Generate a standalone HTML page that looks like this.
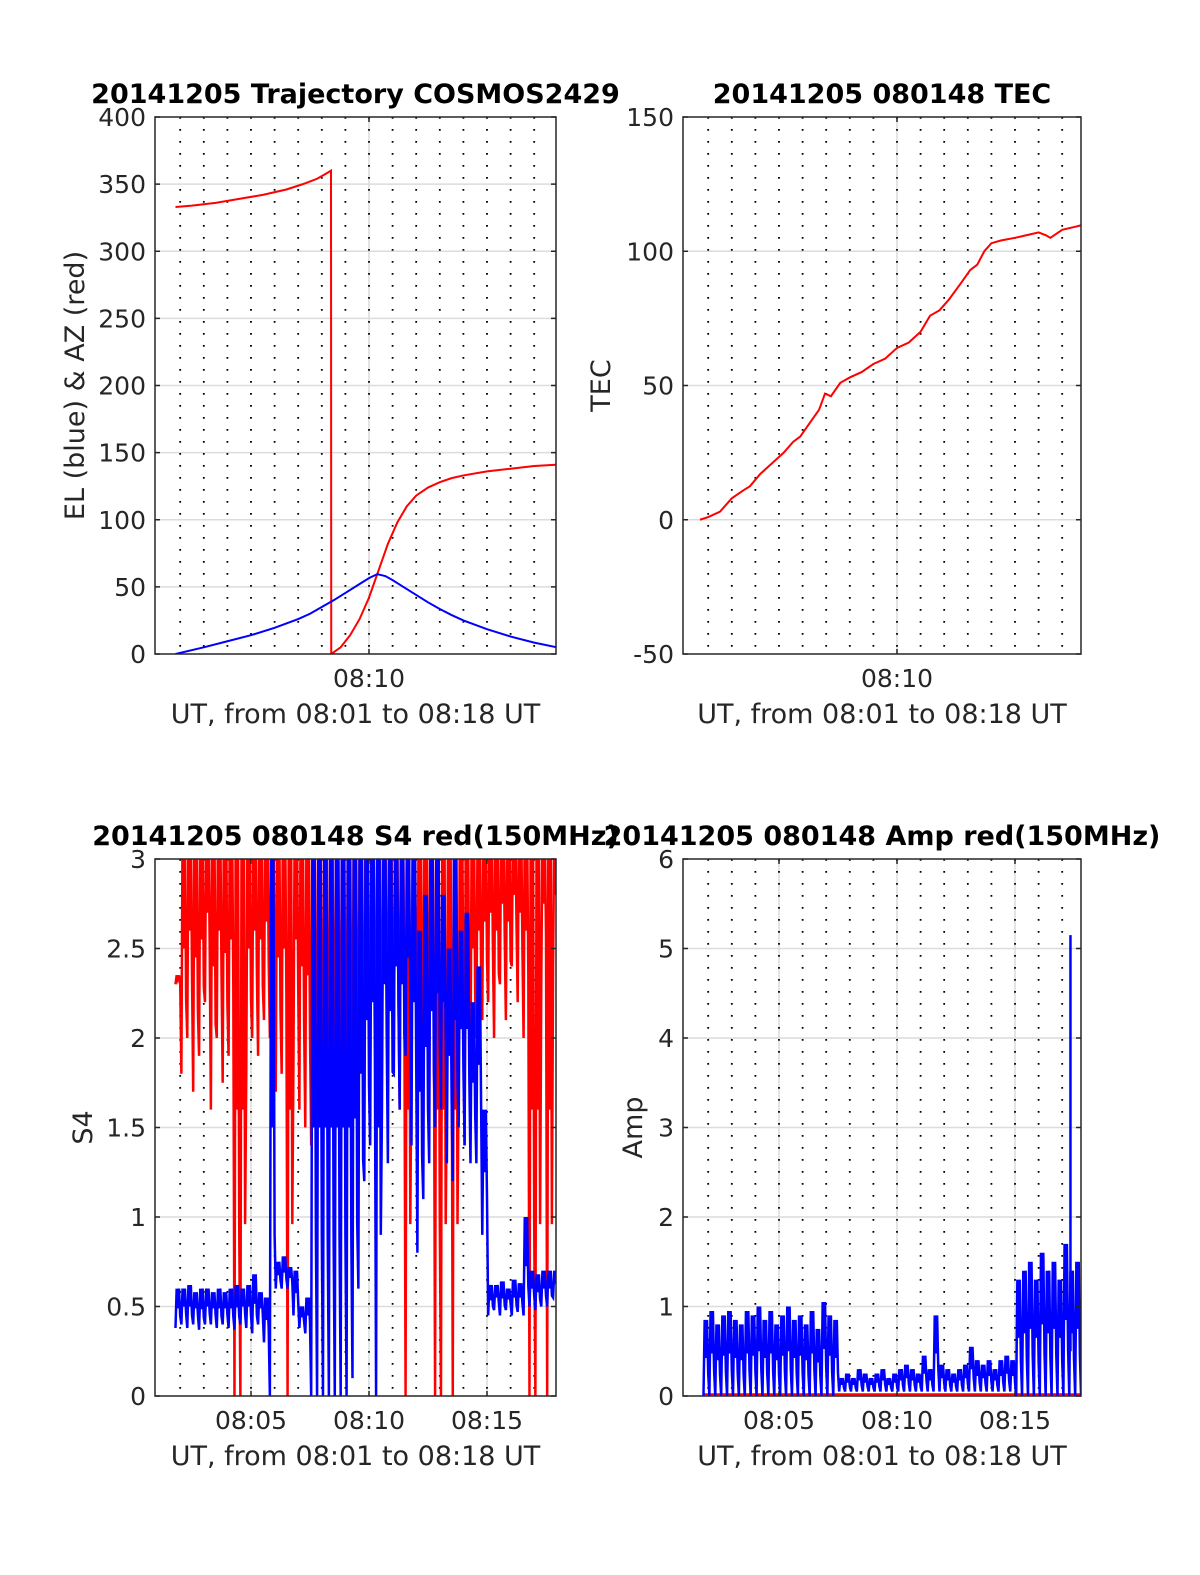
<!DOCTYPE html>
<html><head><meta charset="utf-8"><style>
html,body{margin:0;padding:0;background:#fff}
svg{display:block;font-family:"DejaVu Sans","Liberation Sans",sans-serif}
</style></head><body>
<svg id="fig" width="1200" height="1575" viewBox="0 0 1200 1575"></svg>
<script>
// ---- data ----
const azTimes = [1.8,2.5,3.5,4.5,5.5,6.5,7.2,7.8,8.2,8.39,8.4,8.8,9.2,9.6,10.0,10.4,10.8,11.2,11.6,12.0,12.5,13.0,13.5,14.0,15.0,16.0,17.0,17.95];
const azValues = [333,334,336,339,342,346,350,354,358,360,0,5,14,26,42,62,82,98,110,118,124,128,131,133,136,138,140,141];
const elTimes = [1.8,3,4,5,6,7,7.5,8,8.5,9,9.5,10,10.35,10.7,11,11.5,12,12.5,13,13.5,14,15,16,17,17.95];
const elValues = [0,5,9.5,14,19.5,26,30,35,40,45.5,51,56.5,59.5,58,55,49.5,44,38.5,33.5,29,25,18.5,13,8.5,5];
const tecTimes = [1.65,2.0,2.5,3.0,3.5,3.77,4.2,4.7,5.2,5.6,5.9,6.3,6.7,6.95,7.2,7.6,8.0,8.5,9.0,9.5,10.0,10.5,11.0,11.4,11.8,12.2,12.7,13.1,13.4,13.7,14.0,14.4,15.0,15.5,16.0,16.3,16.5,17.0,17.5,17.95];
const tecValues = [0,1,3,8,11,12.5,17,21,25,29,31,36,41,47,46,51,53,55,58,60,64,66,70,76,78,82,88,93,95,100,103,104,105,106,107,106,105,108,109,110];
const s4Start = 1.8, binStep = 0.25;
const s4BlueLo = [.38,.4,.38,.4,.37,.4,.4,.38,.4,.38,.37,.4,.38,.35,.4,.3,0,.6,.6,.6,.45,.38,.35,0,0,0,0,0,0,0,.1,.6,1.2,1.4,0,1.6,1.3,1.8,1.6,1.9,1.4,.8,1.1,1.3,1.5,1.6,1.3,1.2,1.5,1.4,1.3,1.3,.9,.45,.48,.45,.48,.45,.47,.45,.5,.48,.5,.5,.55];
const s4BlueHi = [.6,.6,.62,.58,.6,.6,.58,.6,.58,.6,.62,.6,.62,.68,.58,.55,3,.75,.78,.72,.7,.5,.55,3,3,3,3,3,3,3,3,3,3,3,3,3,3,3,3,3,3,2.6,2.8,3,3,2.8,2.5,3,2.6,2.7,2.2,2.4,1.6,.62,.62,.64,.6,.65,.63,1.0,.7,.68,.7,.7,.7];
const s4RedLo = [2.3,1.8,2.0,1.7,1.9,2.2,1.6,2.0,1.75,1.9,0,0,1.8,2.0,1.9,2.1,2.0,1.7,1.8,0,1.9,1.6,1.5,1.4,1.5,1.5,1.6,1.5,1.5,1.5,1.6,1.5,1.7,1.8,1.6,1.9,1.7,1.8,1.6,0,1.9,1.7,1.8,1.6,0,0,1.7,0,1.8,1.4,1.8,2.0,2.1,2.2,2.0,2.3,2.1,2.4,2.2,2.0,0,0,2.3,0,2.4];
const ampBlueHi = [0.85,0.95,0.8,0.9,0.95,0.85,0.8,0.95,0.9,1.0,0.85,0.95,0.8,0.9,1.0,0.85,0.9,0.8,0.95,0.75,1.05,0.9,0.85,0.2,0.25,0.2,0.3,0.25,0.2,0.25,0.3,0.2,0.25,0.3,0.35,0.3,0.25,0.45,0.3,0.9,0.35,0.3,0.25,0.3,0.35,0.55,0.4,0.35,0.4,0.3,0.4,0.45,0.4,1.3,1.4,1.5,1.3,1.6,1.4,1.5,1.3,1.7,1.4,1.5,1.3];
const ampBlueLo = [0,0,0,0,0,0,0,0,0,0,0,0,0,0,0,0,0,0,0,0,0,0,0,.05,.05,.05,.05,.05,.05,.05,.05,.05,.05,.05,.05,.05,.05,.05,.05,.05,.05,.05,.05,.05,.05,.05,.05,.05,.05,.05,.05,.05,.05,0,0,0,0,0,0,0,0,0,0,0,0];
const ampSpikeTime = 17.35, ampSpikeValue = 5.15;
const ampRedLevel = 0.02;

const NS="http://www.w3.org/2000/svg";
const svg=document.getElementById('fig');
function mk(tag,attrs,parent){const e=document.createElementNS(NS,tag);for(const k in attrs)e.setAttribute(k,attrs[k]);(parent||svg).appendChild(e);return e;}

function panel(o){
  const g=mk('g',{});
  
  
  const X0=o.x,Y0=o.y,W=o.w,H=537;
  const xs=m=>X0+214+(m-10)*23.6;
  const ys=v=>Y0+H-(v-o.ymin)/(o.ymax-o.ymin)*H;
  o.yticks.forEach(v=>{ if(v>o.ymin&&v<o.ymax) mk('line',{x1:X0,x2:X0+W,y1:ys(v),y2:ys(v),stroke:'#dcdcdc','stroke-width':1.5},g);});
  o.xticks.forEach(m=>mk('line',{x1:xs(m),x2:xs(m),y1:Y0,y2:Y0+H,stroke:'#dcdcdc','stroke-width':1.5},g));
  for(let m=2;m<=17;m++) mk('line',{x1:xs(m),x2:xs(m),y1:Y0,y2:Y0+H,stroke:'#000','stroke-width':1.8,'stroke-dasharray':'1.8 10.2'},g);
  const c=mk('g',{'clip-path':'url(#'+o.clip+')'},g);
  const cp=mk('clipPath',{id:o.clip},g); mk('rect',{x:X0,y:Y0,width:W,height:H},cp);
  o.draw(c,xs,ys);
  mk('rect',{x:X0,y:Y0,width:W,height:H,fill:'none',stroke:'#262626','stroke-width':1.5},g);
  o.yticks.forEach(v=>{
    mk('line',{x1:X0,x2:X0+5,y1:ys(v),y2:ys(v),stroke:'#262626','stroke-width':1.5},g);
    mk('line',{x1:X0+W-5,x2:X0+W,y1:ys(v),y2:ys(v),stroke:'#262626','stroke-width':1.5},g);
    const t=mk('text',{x:X0-9,y:ys(v)+9,'text-anchor':'end','font-size':25,fill:'#262626'},g);t.textContent=String(v);
    
    
  });
  o.xticks.forEach(m=>{
    mk('line',{x1:xs(m),x2:xs(m),y1:Y0,y2:Y0+5,stroke:'#262626','stroke-width':1.5},g);
    mk('line',{x1:xs(m),x2:xs(m),y1:Y0+H-5,y2:Y0+H,stroke:'#262626','stroke-width':1.5},g);
    const t=mk('text',{x:xs(m),y:Y0+H+33,'text-anchor':'middle','font-size':25,fill:'#262626'},g);t.textContent='08:'+String(m).padStart(2,'0');
    
    
  });
  let t=mk('text',{x:X0+W/2,y:Y0+H+69,'text-anchor':'middle','font-size':27,fill:'#262626'},g);t.textContent='UT, from 08:01 to 08:18 UT';
  
  
  t=mk('text',{x:X0+W/2,y:Y0-14,'text-anchor':'middle','font-size':27,'font-weight':'bold',fill:'#000'},g);t.textContent=o.title;
  
  
  t=mk('text',{x:0,y:0,'text-anchor':'middle','font-size':27,fill:'#262626',transform:`translate(${o.ylx},${Y0+H/2}) rotate(-90)`},g);t.textContent=o.ylabel;
  
  
}
function line(parent,xs,ys,T,V,color,name){
  const p=mk('polyline',{points:T.map((t,i)=>xs(t)+','+ys(V[i])).join(' '),fill:'none',stroke:color,'stroke-width':2},parent);
  
  
}
function zig(parent,xs,ys,lo,hi,color,name){
  const pts=[];
  lo.forEach((l,i)=>{const t=s4Start+i*binStep;
    pts.push(xs(t)+','+ys(l)); pts.push(xs(t+binStep*0.2)+','+ys(hi[i]));
    pts.push(xs(t+binStep*0.4)+','+ys((l+hi[i])/2)); pts.push(xs(t+binStep*0.6)+','+ys(hi[i]));
    pts.push(xs(t+binStep*0.8)+','+ys(l+(hi[i]-l)*0.3));});
  const p=mk('polyline',{points:pts.join(' '),fill:'none',stroke:color,'stroke-width':2.5},parent);
  
  
}
panel({name:'trajectory-panel',clip:'c1',x:155,y:117,w:401,ymin:0,ymax:400,yticks:[0,50,100,150,200,250,300,350,400],xticks:[10],
  title:'20141205 Trajectory COSMOS2429',ylabel:'EL (blue) & AZ (red)',ylx:84,
  draw:(g,xs,ys)=>{line(g,xs,ys,azTimes,azValues,'#ff0000','azimuth-line');line(g,xs,ys,elTimes,elValues,'#0000ff','elevation-line');}});
panel({name:'tec-panel',clip:'c2',x:683,y:117,w:398,ymin:-50,ymax:150,yticks:[-50,0,50,100,150],xticks:[10],
  title:'20141205 080148 TEC',ylabel:'TEC',ylx:610,
  draw:(g,xs,ys)=>{line(g,xs,ys,tecTimes,tecValues,'#ff0000','tec-line');}});
panel({name:'s4-panel',clip:'c3',x:155,y:859,w:401,ymin:0,ymax:3,yticks:[0,0.5,1,1.5,2,2.5,3],xticks:[5,10,15],
  title:'20141205 080148 S4 red(150MHz)',ylabel:'S4',ylx:92,
  draw:(g,xs,ys)=>{zig(g,xs,ys,s4RedLo,s4RedLo.map((v,i)=>i===0?2.35:3.2),'#ff0000','s4-red-series');zig(g,xs,ys,s4BlueLo,s4BlueHi,'#0000ff','s4-blue-series');}});
panel({name:'amp-panel',clip:'c4',x:683,y:859,w:398,ymin:0,ymax:6,yticks:[0,1,2,3,4,5,6],xticks:[5,10,15],
  title:'20141205 080148 Amp red(150MHz)',ylabel:'Amp',ylx:642,
  draw:(g,xs,ys)=>{
    const r=mk('line',{x1:xs(s4Start),x2:xs(17.95),y1:ys(ampRedLevel),y2:ys(ampRedLevel),stroke:'#ff0000','stroke-width':2},g);
    
    
    zig(g,xs,ys,ampBlueLo,ampBlueHi,'#0000ff','amp-blue-series');
    const s=mk('line',{x1:xs(ampSpikeTime),x2:xs(ampSpikeTime),y1:ys(0.5),y2:ys(ampSpikeValue),stroke:'#0000ff','stroke-width':2.5},g);
    
    
  }});
</script>
</body></html>
